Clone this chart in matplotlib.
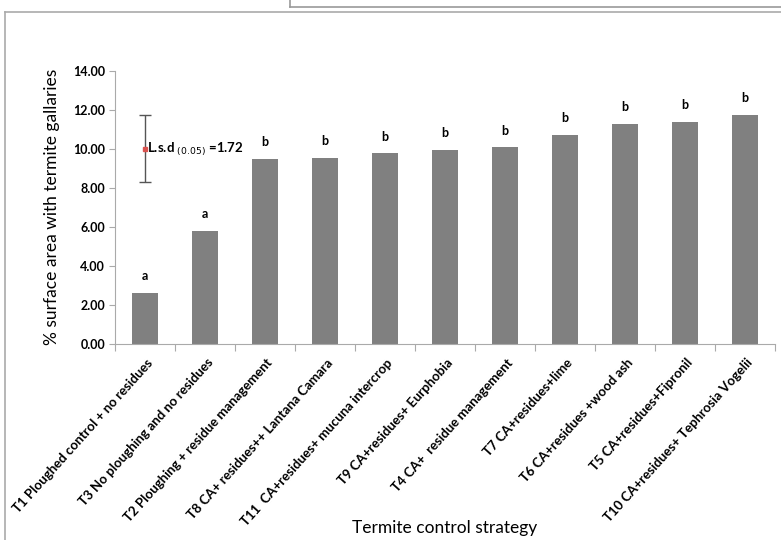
import numpy as np
import matplotlib
matplotlib.use("Agg")
import matplotlib.pyplot as plt
from matplotlib.lines import Line2D

# --- DATA ---
treatments = ["T1 Ploughed control + no residues",
              "T3 No ploughing and no residues",
              "T2 Ploughing + residue management",
              "T8 CA+ residues++ Lantana Camara",
              "T11  CA+residues+ mucuna intercrop",
              "T9 CA+residues+ Eurphobia",
              "T4 CA+  residue management",
              "T7 CA+residues+lime",
              "T6 CA+residues +wood ash",
              "T5 CA+residues+Fipronil",
              "T10 CA+residues+ Tephrosia Vogelii"]
gallery_pct = [2.63, 5.78, 9.47, 9.52, 9.77, 9.95, 10.08, 10.73, 11.28, 11.37, 11.74]
letters = ["a", "a", "b", "b", "b", "b", "b", "b", "b", "b", "b"]
lsd_center = 10.0
lsd_value = 1.72
yticks = [0, 2, 4, 6, 8, 10, 12, 14]

FONT = 'Lato'

fig = plt.figure(figsize=(7.81, 5.40), dpi=100)
ax = fig.add_axes([0.1472, 0.363, 0.845, 0.506])

x = np.arange(len(treatments))
ax.bar(x, gallery_pct, width=0.42, color='#808080', zorder=2)

for xi, v, lt in zip(x, gallery_pct, letters):
    ax.text(xi, v + 0.55, lt, ha='center', va='bottom', fontsize=9,
            fontweight='bold', family=FONT)

# LSD bar
ax.errorbar([0], [lsd_center], yerr=[lsd_value], fmt='s', color='#d9534f',
            ms=3, ecolor='#555555', elinewidth=1, capsize=4, capthick=1, zorder=3)
ax.text(0.04, lsd_center, r"L.s.d $_{(0.05)}$ =1.72", ha='left', va='center',
        fontsize=9.5, fontweight='bold', family=FONT)

ax.set_xlim(-0.5, len(treatments) - 0.5)
ax.set_ylim(0, 14)
ax.set_yticks(yticks)
ax.set_yticklabels([f"{t:.2f}" for t in yticks], fontsize=9, fontweight='bold',
                   family=FONT)

# tick marks between categories, labels at centers
ax.set_xticks(np.arange(len(treatments) + 1) - 0.5)
ax.set_xticklabels([])
ax.set_xticks(x + 0.02, minor=True)
ax.set_xticklabels(treatments, minor=True, rotation=48, ha='right',
                   rotation_mode='anchor', fontsize=9.5, fontweight='bold',
                   family=FONT)
ax.tick_params(axis='x', which='minor', length=0, pad=9)
ax.tick_params(axis='x', which='major', length=5, color='#aaaaaa')
ax.tick_params(axis='y', length=4, color='#aaaaaa', pad=3)

for s in ['top', 'right']:
    ax.spines[s].set_visible(False)
for s in ['left', 'bottom']:
    ax.spines[s].set_color('#aaaaaa')

ax.set_ylabel("% surface area with termite gallaries", fontsize=12.5,
              family=FONT)
ax.yaxis.set_label_coords(-0.083, 0.5)
fig.text(0.569, 0.022, "Termite control strategy", ha='center', va='center',
         fontsize=12.5, family=FONT)

# chart frame bits
fig.add_artist(Line2D([5/781, 5/781], [0, 1 - 12/540], color='#aaaaaa', lw=1.2))
fig.add_artist(Line2D([5/781, 1], [1 - 12/540, 1 - 12/540], color='#aaaaaa', lw=1.2))
fig.add_artist(Line2D([290/781, 290/781], [1 - 7/540, 1], color='#999999', lw=1.2))
fig.add_artist(Line2D([290/781, 1], [1 - 7/540, 1 - 7/540], color='#999999', lw=1.2))

fig.savefig("out.png", dpi=100)
